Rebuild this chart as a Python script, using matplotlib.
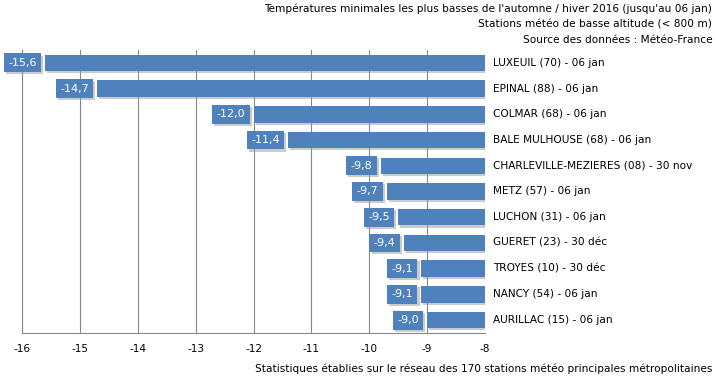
import matplotlib.pyplot as plt
import matplotlib.patheffects as pe

# Data
stations = ['LUXEUIL (70) - 06 jan', 'EPINAL (88) - 06 jan', 'COLMAR (68) - 06 jan',
            'BALE MULHOUSE (68) - 06 jan', 'CHARLEVILLE-MEZIERES (08) - 30 nov',
            'METZ (57) - 06 jan', 'LUCHON (31) - 06 jan', 'GUERET (23) - 30 déc',
            'TROYES (10) - 30 déc', 'NANCY (54) - 06 jan', 'AURILLAC (15) - 06 jan']
temps = [-15.6, -14.7, -12.0, -11.4, -9.8, -9.7, -9.5, -9.4, -9.1, -9.1, -9.0]
xticks = [-16, -15, -14, -13, -12, -11, -10, -9, -8]

blue = '#4F81BD'
base = -8
fs = 7.6
shadow = [pe.SimplePatchShadow(offset=(1.5, -1.5), shadow_rgbFace='#999999', alpha=0.5), pe.Normal()]

fig = plt.figure(figsize=(7.15, 3.76), dpi=100)
ax = fig.add_axes([0.0308, 0.1144, 0.6475, 0.7526])

y = list(range(len(temps)))
bars = ax.barh(y, [t - base for t in temps], left=base, height=0.64, color=blue, zorder=3)
for b in bars:
    b.set_path_effects(shadow)

for i, t in enumerate(temps):
    lbl = ax.annotate(f'{t:.1f}'.replace('.', ','), xy=(t, i), xytext=(-6, 0),
                      textcoords='offset points', ha='right', va='center',
                      fontsize=8, color='white', zorder=5, annotation_clip=False,
                      bbox=dict(boxstyle='square,pad=0.4', fc=blue, ec='none'))
    lbl.get_bbox_patch().set_path_effects(shadow)
    ax.annotate(stations[i], xy=(base, i), xytext=(6, 0), textcoords='offset points',
                ha='left', va='center', fontsize=fs, color='black', annotation_clip=False)

ax.set_xlim(-16, -8)
ax.set_ylim(len(temps) - 0.5, -0.5)
ax.set_xticks(xticks)
ax.set_xticklabels([str(x) for x in xticks], fontsize=fs)
ax.set_yticks([])
ax.tick_params(axis='x', length=0, pad=8)
ax.grid(axis='x', color='#888888', linewidth=0.8, zorder=0)
for s in ['top', 'right']:
    ax.spines[s].set_visible(False)
for s in ['left', 'bottom']:
    ax.spines[s].set_color('#888888')

fig.text(0.996, 0.992, "Températures minimales les plus basses de l'automne / hiver 2016 (jusqu'au 06 jan)",
         ha='right', va='top', fontsize=fs)
fig.text(0.996, 0.948, "Stations météo de basse altitude (< 800 m)", ha='right', va='top', fontsize=fs)
fig.text(0.996, 0.906, "Source des données : Météo-France", ha='right', va='top', fontsize=fs)
fig.text(0.996, 0.005, "Statistiques établies sur le réseau des 170 stations météo principales métropolitaines",
         ha='right', va='bottom', fontsize=fs)

fig.savefig('out.png', dpi=100)
